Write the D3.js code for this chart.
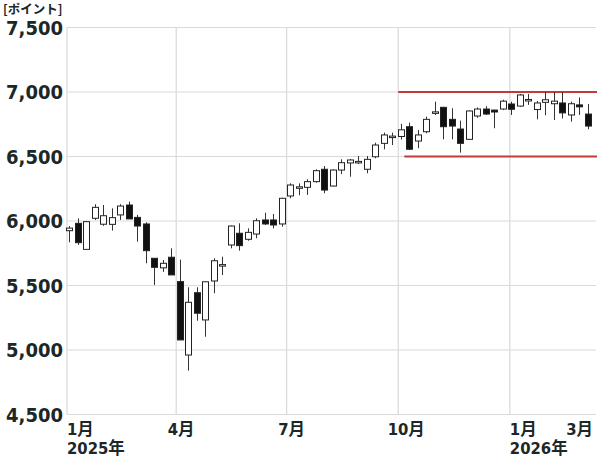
<!DOCTYPE html>
<html><head><meta charset="utf-8">
<script src="https://cdn.jsdelivr.net/npm/d3@7"></script>
<style>
html,body{margin:0;padding:0;background:#fff;}
svg{display:block;}
</style></head>
<body>
<svg id="c" width="600" height="458"></svg>
<script>
// ---- data ----
const weeks = ["2025-01-03","2025-01-10","2025-01-17","2025-01-24","2025-01-31","2025-02-07","2025-02-14","2025-02-21","2025-02-28",
"2025-03-07","2025-03-14","2025-03-21","2025-03-28","2025-04-04","2025-04-11","2025-04-18","2025-04-25","2025-05-02","2025-05-09",
"2025-05-16","2025-05-23","2025-05-30","2025-06-06","2025-06-13","2025-06-20","2025-06-27","2025-07-04","2025-07-11","2025-07-18",
"2025-07-25","2025-08-01","2025-08-08","2025-08-15","2025-08-22","2025-08-29","2025-09-05","2025-09-12","2025-09-19","2025-09-26",
"2025-10-03","2025-10-10","2025-10-17","2025-10-24","2025-10-31","2025-11-07","2025-11-14","2025-11-21","2025-11-28","2025-12-05",
"2025-12-12","2025-12-19","2025-12-26","2026-01-02","2026-01-09","2026-01-16","2026-01-23","2026-01-30","2026-02-06","2026-02-13",
"2026-02-20","2026-02-27","2026-03-06"];
const open  = [5925,5982,5780,6021,5975,5974,6047,6124,6028,5977,5711,5637,5719,5530,4961,5444,5233,5535,5655,5814,5905,5858,5899,6008,6008,5977,
6194,6255,6261,6305,6401,6271,6395,6450,6458,6401,6498,6602,6650,6655,6731,6620,6692,6840,6881,6788,6713,6633,6814,6868,6860,6868,6907,6891,
6938,6864,6920,6909,6915,6822,6900,6829];
const high  = [5960,6020,6000,6130,6124,6098,6130,6150,6047,5990,5711,5698,5788,5700,5486,5486,5530,5711,5723,5965,5982,5943,6021,6064,6054,6180,
6292,6292,6323,6401,6426,6400,6478,6480,6504,6504,6607,6685,6685,6753,6762,6705,6809,6925,6885,6874,6778,6856,6880,6890,6862,6940,6925,6985,
6985,6930,7000,6997,6997,6925,6958,6907];
const low   = [5835,5815,5780,6008,5963,5926,6008,6016,5840,5672,5504,5606,5582,5078,4840,5227,5103,5440,5581,5788,5770,5847,5866,5969,5943,5956,
6176,6200,6202,6297,6215,6268,6364,6343,6442,6370,6486,6556,6589,6631,6550,6564,6680,6822,6633,6633,6530,6633,6800,6822,6719,6860,6822,6885,
6900,6788,6820,6783,6795,6770,6822,6711];
const close = [5945,5832,5995,6106,6041,6026,6116,6016,5961,5770,5641,5672,5582,5078,5370,5285,5529,5692,5662,5961,5809,5912,6002,5977,5969,6176,
6279,6265,6305,6390,6240,6395,6452,6473,6462,6478,6589,6667,6658,6707,6556,6667,6788,6846,6731,6736,6602,6853,6868,6829,6845,6929,6866,6977,
6942,6915,6940,6929,6838,6909,6885,6736];
const yTicks = [4500,5000,5500,6000,6500,7000,7500];
const monthTickDates = ["2025-01-01","2025-04-01","2025-07-01","2025-10-01","2026-01-01"];
const monthLabels = ["1月","4月","7月","10月","1月","3月"];
const yearLabels = ["2025年","","","","2026年",""];
const rangeLevels = [7000,6500];
const rangeStarts = ["2025-10-01","2025-10-06"];
const unitLabel = "[ポイント]";

// ---- chart ----
const svg = d3.select("#c");
const parse = d3.timeParse("%Y-%m-%d");
const L = 67, R = 596, T = 27.5, B = 414.5;
const x = d3.scaleTime().domain([parse("2025-01-01"), parse("2026-03-13")]).range([L, R]);
const y = d3.scaleLinear().domain([4500,7500]).range([B, T]);
const numFont = "'DejaVu Sans Condensed','DejaVu Sans','Noto Sans CJK JP',sans-serif";
const cjkFont = "'Noto Sans CJK JP','Noto Sans',sans-serif";
const grid = "#d9d9de";
const ink = "#1c2727";

svg.append("g").selectAll("line").data(yTicks).join("line")
  .attr("x1", L).attr("x2", R).attr("y1", d=>y(d)).attr("y2", d=>y(d))
  .attr("stroke", grid).attr("stroke-width", 1.2);
svg.append("g").selectAll("line").data(monthTickDates).join("line")
  .attr("x1", d=>x(parse(d))).attr("x2", d=>x(parse(d))).attr("y1", T).attr("y2", B)
  .attr("stroke", grid).attr("stroke-width", 1.2);

// y labels
svg.append("g").selectAll("text").data(yTicks).join("text")
  .attr("x", 63).attr("y", d=>y(d)).attr("dy","0.36em")
  .attr("text-anchor","end").attr("font-family",numFont).attr("font-stretch","condensed")
  .attr("font-weight","bold").attr("font-size",20).attr("fill",ink)
  .text(d=>d3.format(",")(d));

svg.append("text").attr("x",3).attr("y",13.5).attr("font-family",cjkFont).attr("font-weight","bold")
  .attr("font-size",12.5).attr("fill",ink).text(unitLabel);

// x labels (month + optional year)
const labelDates = monthTickDates.concat(["2026-03-13"]);
const g = svg.append("g").attr("font-family",numFont).attr("font-stretch","condensed")
  .attr("font-weight","bold").attr("font-size",16.5).attr("fill",ink);
labelDates.forEach((d,i)=>{
  const px = x(parse(d));
  let anchor = "middle", xx = px + 5;
  if (monthLabels[i] === "1月") { anchor = "start"; xx = px; }
  if (i === labelDates.length-1) { anchor = "end"; xx = px - 3; }
  if (monthLabels[i] === "10月") xx = px + 8;
  g.append("text").attr("text-anchor",anchor).attr("x",xx).attr("y",434.5).text(monthLabels[i]);
  if (yearLabels[i]) g.append("text").attr("text-anchor",anchor).attr("x",xx).attr("y",454).text(yearLabels[i]);
});

// range lines
svg.append("g").selectAll("line").data(rangeLevels).join("line")
  .attr("x1",(d,i)=>x(parse(rangeStarts[i]))).attr("x2",R+1)
  .attr("y1",d=>y(d)).attr("y2",d=>y(d))
  .attr("stroke","#c23b3b").attr("stroke-width",2);

// candles
const data = weeks.map((w,i)=>({d:parse(w),o:open[i],h:high[i],l:low[i],c:close[i]}));
const bw = 6;
const cg = svg.append("g");
cg.selectAll("line").data(data).join("line")
  .attr("x1",d=>Math.round(x(d.d))+0.5).attr("x2",d=>Math.round(x(d.d))+0.5)
  .attr("y1",d=>y(d.h)).attr("y2",d=>y(d.l))
  .attr("stroke","#333").attr("stroke-width",1);
cg.selectAll("rect").data(data).join("rect")
  .attr("x",d=>Math.round(x(d.d))-bw/2+0.5)
  .attr("y",d=>Math.min(y(d.o),y(d.c)))
  .attr("width",bw)
  .attr("height",d=>Math.max(1.5,Math.abs(y(d.o)-y(d.c))))
  .attr("fill",d=>d.c>=d.o?"#fff":"#111")
  .attr("stroke","#222").attr("stroke-width",1);
</script>
</body></html>
